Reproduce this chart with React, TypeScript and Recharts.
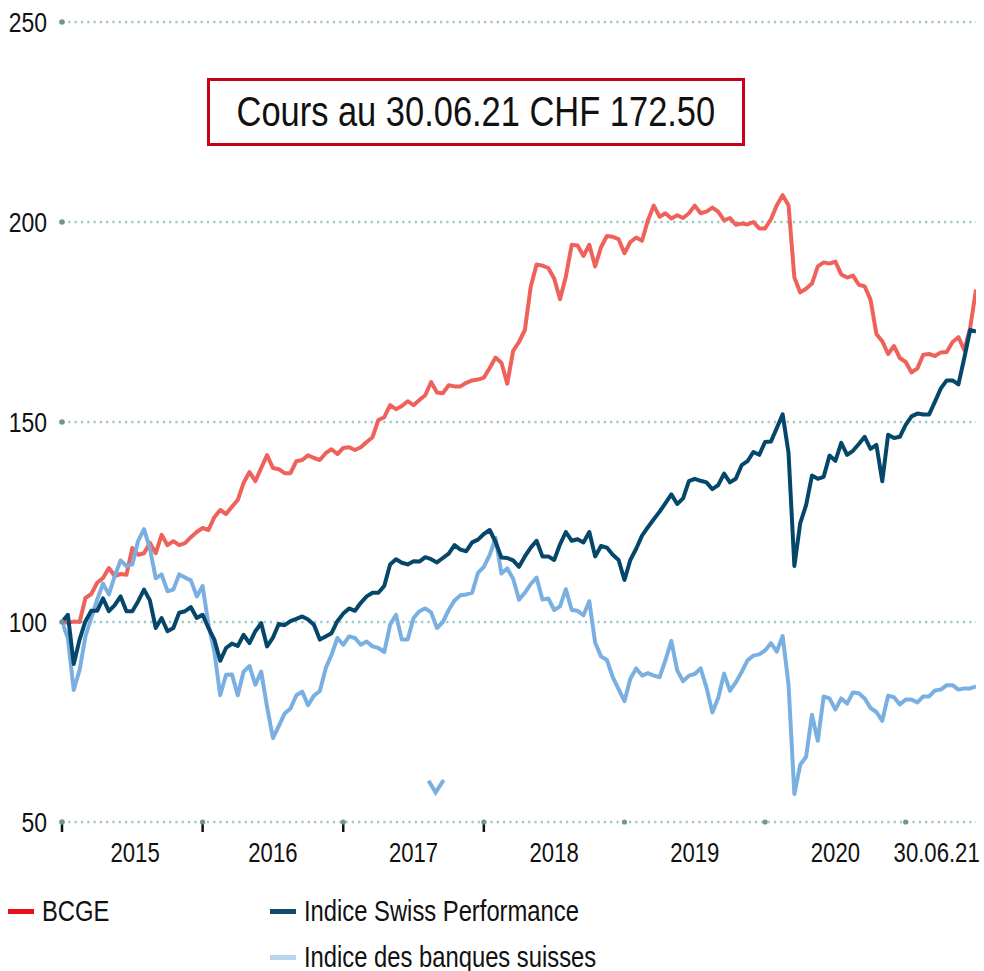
import { LineChart, Line, XAxis, YAxis, CartesianGrid, Legend } from "recharts";

const FONT = "'Liberation Sans', Arial, Helvetica, sans-serif";
const NARROW = 0.82; // Arial squeezed to an Arial-Narrow width

// half-monthly readings, Jan 2015 -> 30.06.2021 (base 100)
const bcge = [
  100, 99.8, 100.1, 100, 106, 107, 109.8, 111, 113.5, 111.5, 112, 111.8, 118.5, 116.8, 117.2, 119.8,
  117.2, 121.8, 119.2, 120.2, 119.2, 119.7, 121.2, 122.5, 123.5, 123, 126.2, 128, 127, 128.8, 130.5, 134.8,
  137.5, 135.2, 138.5, 141.7, 138.5, 138.2, 137.2, 137.2, 140.2, 140.5, 141.7, 141, 140.5, 142.2, 143.2, 142,
  143.5, 143.7, 143, 143.7, 145, 146.2, 150.5, 151.2, 154.2, 153.2, 154, 155.2, 154.2, 155.5, 156.7, 160,
  157.4, 157.2, 159.2, 158.9, 158.9, 159.8, 160.4, 160.6, 161.1, 163.5, 166.1, 164.8, 159.6, 167.8, 170, 173,
  183.8, 189.4, 189.1, 188.5, 185.9, 180.7, 186.4, 194.3, 194.1, 191.5, 194.3, 188.9, 193.7, 196.5, 196.3, 195.7,
  192.2, 195, 196.1, 195.3, 200.4, 204.1, 201.3, 202.2, 200.9, 201.7, 201, 202.2, 204.1, 202.2, 202.6, 203.6,
  202.6, 200.4, 201, 199.3, 199.6, 199.4, 200, 198.4, 198.4, 200.7, 204.2, 206.7, 204.2, 186.1, 182.4, 183.3,
  184.6, 188.9, 189.9, 189.6, 190.1, 186.9, 186.1, 186.6, 184.3, 183.9, 180.6, 172, 170.2, 167, 169, 166,
  165, 162.4, 163.4, 166.8, 167, 166.5, 167.4, 167.5, 170, 171.2, 168, 173.5, 183.1,
];

const spi = [
  100, 101.8, 89.5, 95.6, 100.2, 102.8, 102.8, 105.9, 102.7, 104.2, 106.4, 102.7, 102.7, 105.2, 108.1, 105.4,
  98.5, 101, 97.7, 98.5, 102.3, 102.7, 103.7, 101, 101.8, 98.5, 95.6, 90.3, 93.5, 94.6, 94, 96.8,
  94.7, 97.7, 99.7, 93.9, 96.1, 99.5, 99.2, 100.2, 100.8, 101.4, 100.6, 99.3, 95.6, 96.4, 97.2, 100.2,
  102.1, 103.4, 102.8, 104.8, 106.4, 107.3, 107.3, 109, 114.4, 115.7, 114.8, 114.4, 115.2, 115.1, 116.2, 115.7,
  114.9, 116, 117.1, 119.2, 118.1, 117.7, 119.9, 120.6, 122, 123, 120, 116.1, 116, 115.4, 113.8, 116.4,
  118.6, 120.3, 116.4, 116.4, 115.5, 119.4, 122.5, 120.3, 120.7, 119.9, 122.5, 116.4, 119, 118.6, 116.8, 115.5,
  110.5, 115.5, 118.3, 121.6, 123.7, 125.7, 127.6, 129.7, 131.9, 129.5, 130.9, 135.2, 135.8, 135.3, 134.9, 133.2,
  134.2, 137.1, 134.9, 135.8, 139.2, 140.2, 142.5, 141.8, 145, 145.1, 148.5, 151.9, 142.3, 114, 124.7, 129.2,
  136.6, 135.8, 136.3, 141.6, 140.3, 144.8, 141.8, 142.8, 144.5, 146.3, 143.3, 144.3, 135.2, 146.8, 146, 146.3,
  149.3, 151.4, 152.1, 151.9, 151.9, 155.1, 158.4, 160.4, 160.4, 159.4, 166, 173, 172.6,
];

const banques = [
  100, 96, 83, 88, 96.4, 101, 105.6, 109.6, 106.9, 111.5, 115.4, 114, 114.4, 120.3, 123.2, 118.4,
  110.9, 111.9, 107.7, 108.1, 111.9, 111.1, 110.4, 106.4, 109, 99.3, 92.6, 81.7, 86.8, 86.9, 81.7, 87.6,
  89, 84.3, 87.6, 78.8, 71, 74, 77.1, 78.4, 81.7, 82.6, 79.2, 81.6, 82.7, 88.4, 91.8, 96,
  94.3, 96.4, 96, 94.3, 95.1, 93.9, 93.5, 92.5, 99.3, 101.8, 95.6, 95.6, 101, 102.7, 103.4, 102.4,
  98.5, 100, 103, 105.4, 106.7, 106.9, 107.3, 112.3, 113.8, 116.8, 121, 112.1, 113.4, 110.8, 105.6, 107.3,
  109.5, 111.1, 105.6, 105.9, 103, 103.9, 108.2, 103, 102.8, 101.7, 105.2, 94.8, 91.4, 90.5, 86.2, 83.2,
  80.2, 85.8, 88.4, 86.6, 87.2, 86.6, 86.2, 90.5, 95.3, 87.9, 85.2, 86.6, 87, 88.4, 83.6, 77.4,
  81, 87.1, 82.8, 84.9, 87.5, 90.4, 91.6, 91.9, 92.9, 94.7, 92.6, 96.5, 84.4, 57, 64.3, 66.3,
  76.8, 70.3, 81.4, 80.9, 78.1, 80.9, 79.6, 82.4, 82.2, 80.9, 78.5, 77.5, 75.3, 81.6, 81.2, 79.4,
  80.6, 80.6, 79.9, 81.4, 81.4, 82.9, 83.1, 84.2, 84.2, 83.1, 83.4, 83.4, 83.9,
];

// small stray light-blue mark under the 2017 label area
const strayT = [2017.607, 2017.657, 2017.714];
const strayV = [60.3, 57.4, 60.5];

const yTicks = [50, 100, 150, 200, 250];
const yearStarts = [2015, 2016, 2017, 2018, 2019, 2020, 2021];
const labelPos = [2015.52, 2016.5, 2017.5, 2018.5, 2019.5, 2020.5, 2021.22];
const labelText = ["2015", "2016", "2017", "2018", "2019", "2020", "30.06.21"];

const SERIES = [
  { key: "bcge", name: "BCGE", stroke: "#ef625c", legend: "#e8101a" },
  { key: "banques", name: "Indice des banques suisses", stroke: "#7ab0e1", legend: "#b8d5ef" },
  { key: "spi", name: "Indice Swiss Performance", stroke: "#05476b", legend: "#0d4a6b" },
];

const LEGEND_POS: Record<string, { left: number; top: number }> = {
  bcge: { left: 8, top: 6 },
  spi: { left: 270, top: 6 },
  banques: { left: 270, top: 52 },
};

const data = bcge.map((v, i) => ({
  t: 2015 + i / 24,
  bcge: v,
  spi: spi[i],
  banques: banques[i],
}));

const stray = strayT.map((t, i) => ({ t, v: strayV[i] }));

function XTick(props: any) {
  const { x, y, payload } = props;
  const li = labelPos.indexOf(payload.value);
  if (li >= 0) {
    return (
      <text
        transform={`translate(${x} ${y + 40}) scale(${NARROW} 1)`}
        textAnchor="middle"
        fontSize={27}
        fontFamily={FONT}
        fill="#111"
      >
        {labelText[li]}
      </text>
    );
  }
  const yi = yearStarts.indexOf(payload.value);
  return (
    <g>
      {yi < 4 && <line x1={x} x2={x} y1={y + 1} y2={y + 10} stroke="#111" strokeWidth={2.5} />}
      {yi > 0 && <circle cx={x} cy={y} r={2.6} fill="#6f9494" />}
    </g>
  );
}

function YTick(props: any) {
  const { x, y, payload } = props;
  return (
    <g>
      <circle cx={x} cy={y} r={2.8} fill="#6f9494" />
      <text
        transform={`translate(${x - 15} ${y}) scale(${NARROW} 1)`}
        dy="0.36em"
        textAnchor="end"
        fontSize={28}
        fontFamily={FONT}
        fill="#111"
      >
        {payload.value}
      </text>
    </g>
  );
}

function LegendBox() {
  return (
    <div style={{ position: "relative", width: 984, height: 86, fontFamily: FONT, fontSize: 29, color: "#111" }}>
      {SERIES.map((s) => (
        <div
          key={s.key}
          style={{
            position: "absolute",
            left: LEGEND_POS[s.key].left,
            top: LEGEND_POS[s.key].top,
            height: 40,
            display: "flex",
            alignItems: "center",
            whiteSpace: "nowrap",
          }}
        >
          <span style={{ display: "inline-block", width: 26, height: 5, background: s.legend, marginRight: 8 }} />
          <span style={{ display: "inline-block", transform: `scaleX(${NARROW})`, transformOrigin: "left center" }}>
            {s.name}
          </span>
        </div>
      ))}
    </div>
  );
}

export default function App() {
  return (
    <div style={{ position: "absolute", left: 0, top: 0, width: 984, height: 971, background: "#fff" }}>
      <LineChart width={984} height={971} data={data} margin={{ top: 22, right: 8, bottom: 89, left: 0 }}>
        <CartesianGrid
          vertical={false}
          stroke="#9ec8c8"
          strokeWidth={2.6}
          strokeDasharray="2.2 4.1"
        />
        <XAxis
          dataKey="t"
          type="number"
          domain={[2015, 2021.5]}
          ticks={[...yearStarts, ...labelPos]}
          interval={0}
          axisLine={false}
          tickLine={false}
          tickSize={0}
          tickMargin={0}
          height={60}
          tick={<XTick />}
          allowDataOverflow
        />
        <YAxis
          domain={[50, 250]}
          ticks={yTicks}
          interval={0}
          axisLine={false}
          tickLine={false}
          tickSize={0}
          tickMargin={0}
          width={62}
          tick={<YTick />}
        />
        <Legend
          content={<LegendBox />}
          layout="horizontal"
          verticalAlign="middle"
          align="center"
          wrapperStyle={{ left: 0, top: 885, width: 984 }}
        />
        {SERIES.slice(0, 2).map((s) => (
          <Line
            key={s.key}
            type="linear"
            dataKey={s.key}
            name={s.name}
            stroke={s.stroke}
            strokeWidth={4}
            strokeLinejoin="round"
            dot={false}
            activeDot={false}
            isAnimationActive={false}
          />
        ))}
        <Line
          data={stray}
          dataKey="v"
          type="linear"
          stroke="#7ab0e1"
          strokeWidth={4}
          dot={false}
          activeDot={false}
          legendType="none"
          isAnimationActive={false}
        />
        <Line
          type="linear"
          dataKey="spi"
          name="Indice Swiss Performance"
          stroke={SERIES[2].stroke}
          strokeWidth={4}
          strokeLinejoin="round"
          dot={false}
          activeDot={false}
          isAnimationActive={false}
        />
      </LineChart>
      <div
        style={{
          position: "absolute",
          left: 207,
          top: 78,
          width: 538,
          height: 68,
          boxSizing: "border-box",
          border: "3px solid #c4001c",
          display: "flex",
          alignItems: "center",
          justifyContent: "center",
          fontFamily: FONT,
          fontSize: 42,
          color: "#111",
          background: "#fff",
          whiteSpace: "nowrap",
        }}
      >
        <span style={{ display: "inline-block", flexShrink: 0, transform: `scaleX(${NARROW})`, transformOrigin: "center" }}>
          Cours au 30.06.21 CHF 172.50
        </span>
      </div>
    </div>
  );
}
